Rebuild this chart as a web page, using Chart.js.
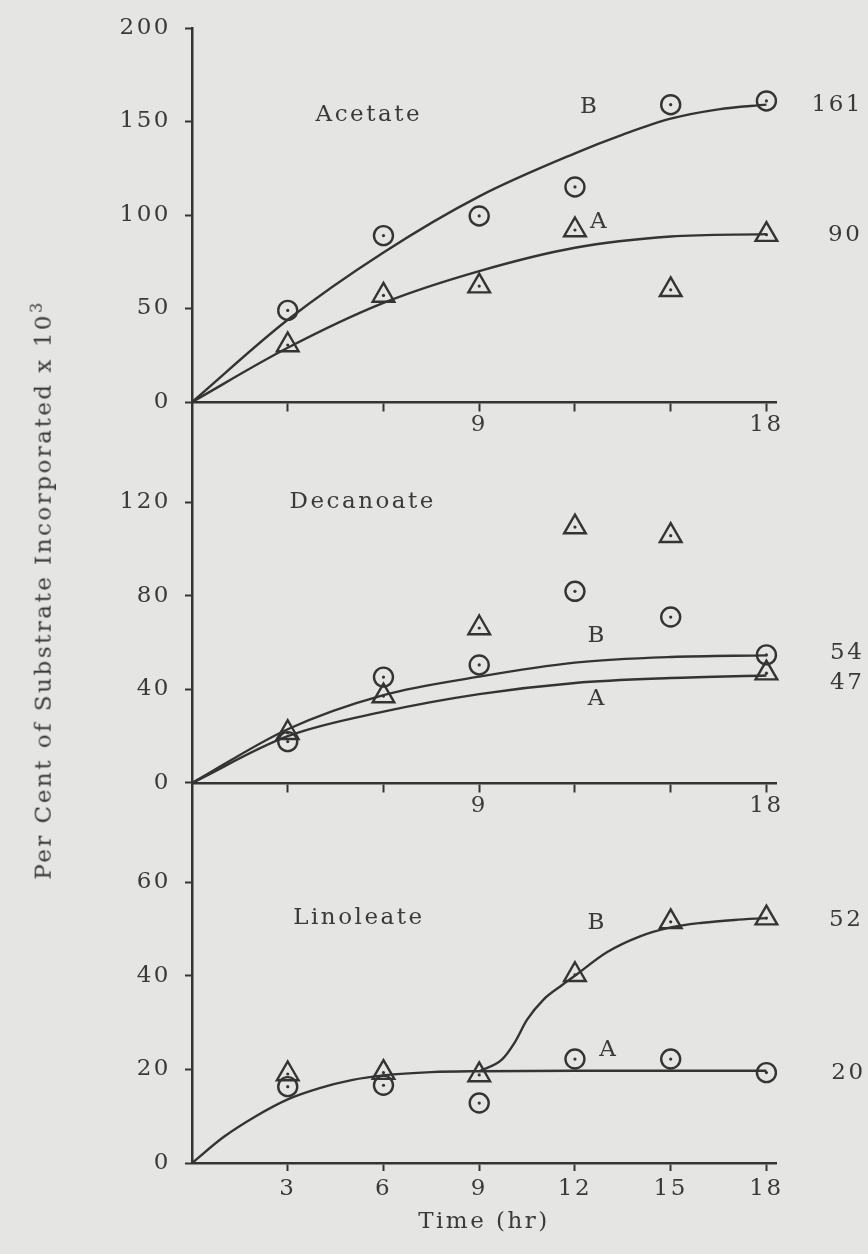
<!DOCTYPE html>
<html>
<head>
<meta charset="utf-8">
<script src="https://cdn.jsdelivr.net/npm/chart.js@4.4.1/dist/chart.umd.min.js"></script>
<style>
  html, body { margin: 0; padding: 0; background: #e5e5e3; }
  #wrap { position: relative; width: 868px; height: 1254px; overflow: hidden; }
  .panel { position: absolute; left: 0; width: 868px; }
  #ytitle {
    position: absolute; left: 41px; top: 590px;
    transform: translate(-50%, -50%) rotate(-90deg);
    white-space: nowrap;
    font: 23px "DejaVu Serif"; letter-spacing: 2.5px; color: #3a3a3a;
  }
  #ytitle sup { font-size: 16px; }
</style>
</head>
<body>
<div id="wrap">
  <div class="panel" style="top:0"><canvas id="acetate" width="868" height="440"></canvas></div>
  <div class="panel" style="top:440px"><canvas id="decanoate" width="868" height="381"></canvas></div>
  <div class="panel" style="top:821px"><canvas id="linoleate" width="868" height="433"></canvas></div>
  <div id="ytitle">Per Cent of Substrate Incorporated x 10<sup>3</sup></div>
</div>
<script>
// sampling times (hr)
const hours = [3, 6, 9, 12, 15, 18];
const curveHours = [0, 3, 6, 9, 12, 15, 18];
const sparseXLabels = [9, 18];
const fullXLabels = [3, 6, 9, 12, 15, 18];

// Acetate
const acetateTicks = [0, 50, 100, 150, 200];
const acetateCircles = [49, 89, 99.5, 115, 159, 161];
const acetateTriangles = [30.5, 57, 62, 92, 60, 89.5];
const acetateHoursB = [0, 3, 6, 9, 12, 13.5, 15, 16.5, 18];
const acetateCurveB = [0, 44, 80, 110, 133, 143, 151.5, 156.5, 159];
const acetateCurveA = [0, 29, 53, 70, 82.5, 88.5, 89.8];

// Decanoate
const decanoateTicks = [0, 40, 80, 120];
const decanoateCircles = [17.7, 45.3, 50.5, 82, 71, 54.8];
const decanoateTriangles = [21.5, 37.2, 66.3, 109.5, 105.8, 47];
const decanoateCurveB = [0, 23, 37.6, 45.5, 51.5, 53.9, 54.6];
const decanoateCurveA = [0, 20, 30.5, 38, 42.8, 44.9, 46];

// Linoleate
const linoleateTicks = [0, 20, 40, 60];
const linoleateTriangles = [19, 19.3, 18.8, 40.2, 51.5, 52.3];
const linoleateCircles = [16.3, 16.6, 12.8, 22.2, 22.2, 19.3];
const linoleateHoursA = [0, 1, 2, 3, 4, 5, 6, 7.5, 9, 12, 15, 18];
const linoleateCurveA = [0, 5.6, 10, 13.6, 16, 17.7, 18.7, 19.4, 19.6, 19.7, 19.7, 19.7];
const linoleateHoursB = [9, 9.7, 10.1, 10.5, 11, 11.6, 12, 13, 14, 15, 16, 17, 18];
const linoleateCurveB = [19.6, 22, 25.6, 30.6, 34.8, 38, 40, 45, 48.3, 50.3, 51.3, 51.9, 52.3];

const ink = '#343434';
const textInk = '#3a3a3a';
const font = { family: 'DejaVu Serif', size: 23 };

function pts(xs, ys) {
  return xs.map((x, i) => ({ x: x, y: ys[i] }));
}

function curve(xs, ys) {
  return {
    data: pts(xs, ys), showLine: true, pointRadius: 0,
    borderColor: ink, borderWidth: 2.4,
    cubicInterpolationMode: 'monotone', clip: false
  };
}

function markers(ys, style) {
  return {
    data: pts(hours, ys), pointStyle: style,
    pointRadius: style === 'triangle' ? 12.5 : 9.5,
    pointBorderWidth: 2.4, pointBorderColor: ink,
    pointBackgroundColor: 'rgba(0,0,0,0)', clip: false
  };
}

function dots(ys) {
  return {
    data: pts(hours, ys), pointStyle: 'circle', pointRadius: 1.6,
    pointBorderWidth: 0, pointBackgroundColor: ink, clip: false
  };
}

// typewriter-ish spacing for all canvas text
const spacing = {
  id: 'spacing',
  beforeDraw(chart) { chart.ctx.letterSpacing = '2.5px'; }
};

const notes = {
  id: 'notes',
  afterDatasetsDraw(chart, args, opts) {
    const { ctx, scales: { x, y } } = chart;
    ctx.save();
    ctx.font = '23px "DejaVu Serif"';
    ctx.fillStyle = textInk;
    ctx.textAlign = 'center';
    ctx.textBaseline = 'middle';
    opts.items.forEach(n => ctx.fillText(n.text, x.getPixelForValue(n.x), y.getPixelForValue(n.y)));
    ctx.restore();
  }
};

function makePanel(id, p) {
  const bottomPanel = p.xLabels === fullXLabels;
  const xScale = {
    type: 'linear', min: 0, max: 18.3,
    position: bottomPanel ? 'bottom' : { y: 0 },
    afterBuildTicks: ax => { ax.ticks = hours.map(v => ({ value: v })); },
    ticks: {
      font: font, color: textInk, padding: bottomPanel ? 4 : 1,
      maxRotation: 0, autoSkip: false,
      callback: v => p.xLabels.includes(v) ? String(v) : ''
    },
    grid: { drawOnChartArea: false, tickLength: 8, tickWidth: 2, tickColor: ink },
    border: { color: ink, width: 2.5 }
  };
  if (bottomPanel) {
    xScale.afterFit = ax => { ax.height = p.xHeight; };
    xScale.title = { display: true, text: 'Time (hr)', font: font, color: textInk, padding: { top: 0, bottom: 18 } };
  }

  new Chart(document.getElementById(id).getContext('2d'), {
    type: 'scatter',
    data: { datasets: p.datasets },
    options: {
      responsive: false,
      animation: false,
      events: [],
      layout: { autoPadding: false, padding: { top: p.padTop, right: 92, bottom: 0, left: 0 } },
      plugins: { legend: { display: false }, tooltip: { enabled: false }, notes: { items: p.notes } },
      scales: {
        x: xScale,
        y: {
          type: 'linear', min: p.yMin, max: p.yMax,
          afterBuildTicks: ax => { ax.ticks = p.yTicks.map(v => ({ value: v })); },
          afterFit: ax => { ax.width = 192; ax.paddingTop = 0; ax.paddingBottom = 0; },
          ticks: { font: font, color: textInk, padding: 14 },
          grid: { drawOnChartArea: false, tickLength: 7, tickWidth: 2, tickColor: ink },
          border: { color: ink, width: 2.5 }
        }
      }
    },
    plugins: [spacing, notes]
  });
}

makePanel('acetate', {
  padTop: 28, yMin: -20.3, yMax: 200, yTicks: acetateTicks, xLabels: sparseXLabels,
  datasets: [
    curve(acetateHoursB, acetateCurveB), curve(curveHours, acetateCurveA),
    markers(acetateCircles, 'circle'), markers(acetateTriangles, 'triangle'),
    dots(acetateCircles), dots(acetateTriangles)
  ],
  notes: [
    { text: 'Acetate', x: 5.54, y: 153.5 },
    { text: 'B', x: 12.46, y: 158 },
    { text: 'A', x: 12.77, y: 96.4 },
    { text: '161', x: 20.22, y: 158.6 },
    { text: '90', x: 20.47, y: 89.3 }
  ]
});

makePanel('decanoate', {
  padTop: 0, yMin: -16.26, yMax: 146.74, yTicks: decanoateTicks, xLabels: sparseXLabels,
  datasets: [
    curve(curveHours, decanoateCurveB), curve(curveHours, decanoateCurveA),
    markers(decanoateCircles, 'circle'), markers(decanoateTriangles, 'triangle'),
    dots(decanoateCircles), dots(decanoateTriangles)
  ],
  notes: [
    { text: 'Decanoate', x: 5.35, y: 120 },
    { text: 'B', x: 12.7, y: 62.9 },
    { text: 'A', x: 12.7, y: 35.8 },
    { text: '54', x: 20.53, y: 55.7 },
    { text: '47', x: 20.53, y: 42.6 }
  ]
});

makePanel('linoleate', {
  padTop: 0, yMin: 0, yMax: 73.03, yTicks: linoleateTicks, xLabels: fullXLabels, xHeight: 91,
  datasets: [
    curve(linoleateHoursA, linoleateCurveA), curve(linoleateHoursB, linoleateCurveB),
    markers(linoleateCircles, 'circle'), markers(linoleateTriangles, 'triangle'),
    dots(linoleateCircles), dots(linoleateTriangles)
  ],
  notes: [
    { text: 'Linoleate', x: 5.23, y: 52.4 },
    { text: 'B', x: 12.7, y: 51.3 },
    { text: 'A', x: 13.06, y: 24.1 },
    { text: '52', x: 20.5, y: 51.9 },
    { text: '20', x: 20.57, y: 19.2 }
  ]
});
</script>
</body>
</html>
